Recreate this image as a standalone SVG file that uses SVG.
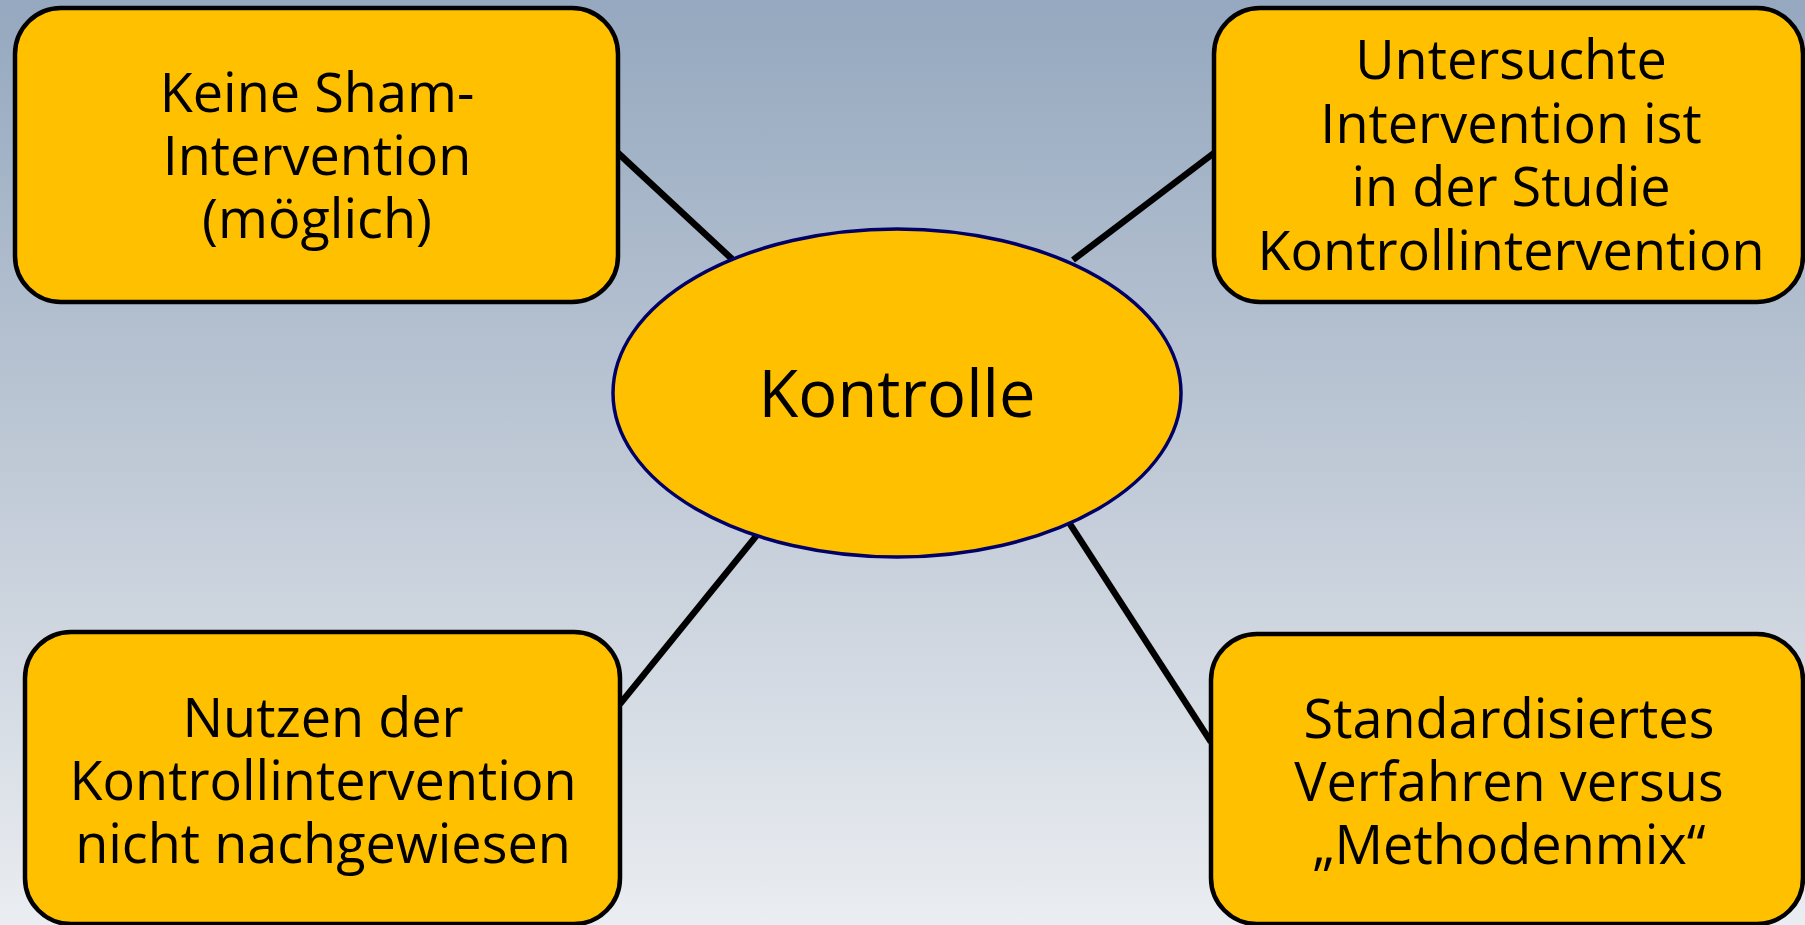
<svg xmlns="http://www.w3.org/2000/svg" width="1805" height="925" viewBox="0 0 1805 925">
  <defs>
    <linearGradient id="bg" x1="0" y1="0" x2="0" y2="1">
      <stop offset="0" stop-color="#95A8BF"/>
      <stop offset="0.5" stop-color="#BFC9D6"/>
      <stop offset="1" stop-color="#EAEDF1"/>
    </linearGradient>
    <style>
      .box { fill: #FFC000; stroke: #000; stroke-width: 4.5; }
      .ell { fill: #FFC000; stroke: #000066; stroke-width: 3.5; }
      .conn line { stroke: #000; stroke-width: 6.5; }
      .t { font-family: "Open Sans", "Liberation Sans", sans-serif; font-size: 54px; fill: #000; text-anchor: middle; }
      .tc { font-family: "Open Sans", "Liberation Sans", sans-serif; font-size: 65px; fill: #000; text-anchor: middle; }
    </style>
  </defs>
  <rect x="0" y="0" width="1805" height="925" fill="url(#bg)"/>
  <g id="connectors" class="conn">
    <line x1="618" y1="153" x2="732" y2="259"/>
    <line x1="1073" y1="260" x2="1214" y2="153"/>
    <line x1="757" y1="535" x2="620" y2="704"/>
    <line x1="1070" y1="524" x2="1211" y2="742"/>
  </g>
  <g id="node-sham">
    <rect class="box" x="15" y="8" width="603" height="294" rx="46" ry="46"/>
    <text class="t" x="317" y="112">Keine Sham-</text>
    <text class="t" x="317" y="175">Intervention</text>
    <text class="t" x="317" y="238">(möglich)</text>
  </g>
  <g id="node-untersuchte">
    <rect class="box" x="1214" y="8" width="589" height="294" rx="46" ry="46"/>
    <text class="t" x="1511" y="79">Untersuchte</text>
    <text class="t" x="1511" y="143">Intervention ist</text>
    <text class="t" x="1511" y="206">in der Studie</text>
    <text class="t" x="1511" y="270">Kontrollintervention</text>
  </g>
  <g id="node-nutzen">
    <rect class="box" x="25" y="632" width="595" height="292" rx="46" ry="46"/>
    <text class="t" x="323" y="737">Nutzen der</text>
    <text class="t" x="323" y="800">Kontrollintervention</text>
    <text class="t" x="323" y="863">nicht nachgewiesen</text>
  </g>
  <g id="node-standard">
    <rect class="box" x="1211" y="634" width="592" height="290" rx="46" ry="46"/>
    <text class="t" x="1509" y="738">Standardisiertes</text>
    <text class="t" x="1509" y="801">Verfahren versus</text>
    <text class="t" x="1509" y="864">„Methodenmix“</text>
  </g>
  <g id="node-kontrolle">
    <ellipse class="ell" cx="897" cy="393" rx="284" ry="164"/>
    <text class="tc" x="897" y="417">Kontrolle</text>
  </g>
</svg>
